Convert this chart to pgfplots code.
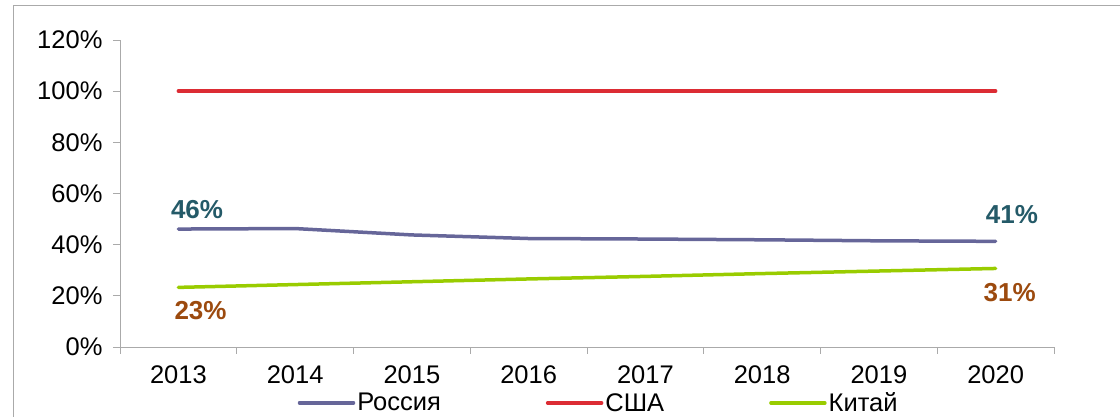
\documentclass[border=0pt]{standalone}
\usepackage{pgfplots}
\pgfplotsset{compat=1.18}
\usepackage{fontspec}
\setmainfont{Liberation Sans}
\definecolor{ru}{RGB}{102,102,153}
\definecolor{us}{RGB}{220,44,52}
\definecolor{cn}{RGB}{153,204,0}
\definecolor{lblA}{RGB}{36,90,104}
\definecolor{lblB}{RGB}{156,74,14}
\definecolor{axg}{RGB}{170,170,170}
\begin{document}
\begin{tikzpicture}
\path[use as bounding box, clip] (0,0) rectangle (1120pt,417pt);
\draw[axg, line width=1pt] (13pt,-20pt) rectangle (1140pt,411pt);
\begin{axis}[
  at={(120pt,70pt)}, anchor=south west,
  scale only axis, width=934pt, height=307pt,
  xmin=-0.5, xmax=7.5, ymin=0, ymax=120,
  axis lines*=left,
  axis line style={axg, line width=0.8pt},
  tick align=outside,
  major tick length=7pt, minor tick length=7pt,
  xtick={0,...,7},
  xticklabels={2013,2014,2015,2016,2017,2018,2019,2020},
  minor xtick={-0.5,0.5,...,7.5},
  major x tick style={draw=none},
  minor x tick style={axg, line width=0.8pt},
  ytick={0,20,...,120},
  yticklabel={\pgfmathprintnumber{\tick}\%},
  ytick style={axg, line width=0.8pt},
  tick label style={font=\fontsize{25.5}{28}\selectfont, text=black},
  xticklabel style={yshift=-8pt},
  yticklabel style={xshift=-7pt},
  /pgf/number format/assume math mode=true,
  legend style={at={(axis description cs:0.5125,-0.182)}, anchor=center, draw=none, fill=none,
    legend columns=3, font=\fontsize{25.5}{28}\selectfont,
    /tikz/every even column/.append style={column sep=103pt},
    nodes={inner sep=2pt}},
  legend image code/.code={\draw[#1, line cap=round] (0pt,0pt) -- (54pt,0pt);},
  clip=false,
]
\addplot[ru, line width=3.5pt, line cap=round] coordinates {(0,46.1) (1,46.3) (2,43.8) (3,42.4) (4,42.2) (5,41.9) (6,41.5) (7,41.3)};
\addlegendentry{Россия}
\addplot[us, line width=3.5pt, line cap=round] coordinates {(0,100) (1,100) (2,100) (3,100) (4,100) (5,100) (6,100) (7,100)};
\addlegendentry{США}
\addplot[cn, line width=3.5pt, line cap=round] coordinates {(0,23.3) (1,24.4) (2,25.5) (3,26.6) (4,27.6) (5,28.7) (6,29.7) (7,30.7)};
\addlegendentry{Китай}
\node[text=lblA, font=\fontsize{26}{28}\selectfont\bfseries] at (axis cs:0.16,53.8) {46\%};
\node[text=lblA, font=\fontsize{26}{28}\selectfont\bfseries] at (axis cs:7.14,51.9) {41\%};
\node[text=lblB, font=\fontsize{26}{28}\selectfont\bfseries] at (axis cs:0.19,14.2) {23\%};
\node[text=lblB, font=\fontsize{26}{28}\selectfont\bfseries] at (axis cs:7.12,21.1) {31\%};
\end{axis}
\end{tikzpicture}
\end{document}
